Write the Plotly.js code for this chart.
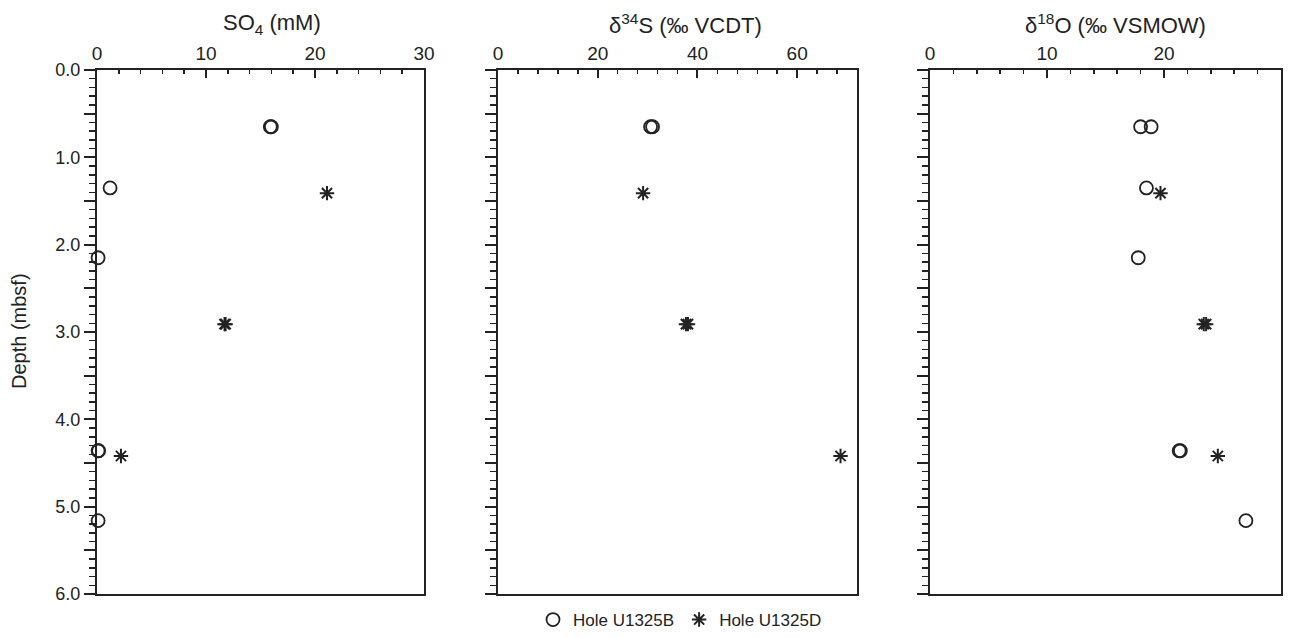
<!DOCTYPE html>
<html>
<head>
<meta charset="utf-8">
<script src="https://cdn.plot.ly/plotly-3.0.1.min.js"></script>
<style>html,body{margin:0;padding:0;background:#fff;}#chart{width:1291px;height:638px;}</style>
</head>
<body>
<div id="chart"></div>
<script>
// Hole U1325B (open circles)
const depthB = [0.65, 0.65, 1.35, 2.15, 4.36, 4.36, 5.16];
const so4B   = [15.9, 16.0, 1.2, 0.1, 0.1, 0.15, 0.1];
const d34SB  = [30.6, 31.0, null, null, null, null, null];
const d18OB  = [18.0, 18.9, 18.5, 17.8, 21.3, 21.4, 27.0];

// Hole U1325D (asterisks)
const depthD = [1.41, 2.91, 2.91, 4.42];
const so4D   = [21.1, 11.7, 11.8, 2.2];
const d34SD  = [29.1, 37.7, 38.1, 68.7];
const d18OD  = [19.7, 23.4, 23.6, 24.6];

const panelTitles = ["SO<sub>4</sub> (mM)", "δ<sup>34</sup>S (‰ VCDT)", "δ<sup>18</sup>O (‰ VSMOW)"];
const nameB = "Hole U1325B", nameD = "Hole U1325D";

const W = 1291, H = 638;
const ink = "#222";
const FONT = "Liberation Sans, Arial, Helvetica, sans-serif";

const circ = {symbol: "circle-open", size: 13, color: ink, line: {color: ink, width: 1.8}};
const star = {symbol: "asterisk-open", size: 12, color: ink, line: {color: ink, width: 2}};

const xs = [[so4B, so4D], [d34SB, d34SD], [d18OB, d18OD]];
const traces = [];
xs.forEach((pair, i) => {
  const xa = i === 0 ? "x" : "x" + (i + 1);
  const ya = i === 0 ? "y" : "y" + (i + 1);
  traces.push({type: "scatter", mode: "markers", x: pair[0], y: depthB, xaxis: xa, yaxis: ya,
    name: nameB, marker: circ, showlegend: i === 0, legendgroup: "B", cliponaxis: false});
  traces.push({type: "scatter", mode: "markers", x: pair[1], y: depthD, xaxis: xa, yaxis: ya,
    name: nameD, marker: star, showlegend: i === 0, legendgroup: "D", cliponaxis: false});
});

const plotTop = 70, plotBottom = 594;
const yDom = [1 - plotBottom / H, 1 - plotTop / H];
const xDoms = [[97, 424], [498, 857], [930, 1281]];
const titleCenters = [272, 685, 1115];
const xRanges = [[0, 30], [0, 72], [0, 30]];
const xDticks = [10, 20, 10];
const xMinor = [2, 4, 2];

const layout = {
  width: W, height: H,
  margin: {l: 0, r: 0, t: 0, b: 0, autoexpand: false},
  paper_bgcolor: "#fff", plot_bgcolor: "#fff",
  font: {family: FONT, color: ink, size: 18},
  showlegend: true,
  legend: {orientation: "h", x: 680 / W, xanchor: "center", y: 0, yanchor: "bottom",
    font: {size: 17, color: ink}, itemwidth: 30, tracegroupgap: 0, bgcolor: "rgba(0,0,0,0)"},
  annotations: [],
};

for (let i = 0; i < 3; i++) {
  const sfx = i === 0 ? "" : String(i + 1);
  const xa = "x" + sfx, ya = "y" + sfx;
  layout["xaxis" + sfx] = {
    domain: [xDoms[i][0] / W, xDoms[i][1] / W], range: xRanges[i], side: "top", anchor: ya,
    showline: true, mirror: true, linecolor: ink, linewidth: 2,
    ticks: "inside", ticklen: 8, tickwidth: 2, tickcolor: ink, dtick: xDticks[i], tick0: 0,
    minor: {ticks: "inside", dtick: xMinor[i], tick0: 0, ticklen: 4, tickwidth: 1.5, tickcolor: ink},
    showgrid: false, zeroline: false, tickfont: {size: 19, color: ink}, fixedrange: true
  };
  layout["yaxis" + sfx] = {
    domain: yDom, range: [6, 0], anchor: xa,
    showline: true, mirror: true, linecolor: ink, linewidth: 2,
    ticks: "outside", ticklen: 11, tickwidth: 2, tickcolor: ink,
    tickmode: "linear", tick0: 0, dtick: 0.5, ticklabelstep: 2, tickformat: ".1f",
    minor: {ticks: "outside", tickmode: "linear", tick0: 0, dtick: 0.1, ticklen: 6, tickwidth: 1.5, tickcolor: ink},
    showticklabels: i === 0, showgrid: false, zeroline: false,
    tickfont: {size: 18, color: ink}, fixedrange: true
  };
  layout.annotations.push({
    text: panelTitles[i], xref: "paper", yref: "paper",
    x: titleCenters[i] / W, y: 1 - 24 / H,
    xanchor: "center", yanchor: "middle", showarrow: false, font: {size: 22, color: ink}
  });
}
layout.annotations.push({
  text: "Depth (mbsf)", xref: "paper", yref: "paper", x: 19 / W, y: 1 - 331 / H,
  xanchor: "center", yanchor: "middle", textangle: -90, showarrow: false, font: {size: 20, color: ink}
});

Plotly.newPlot("chart", traces, layout, {displayModeBar: false, staticPlot: true});
</script>
</body>
</html>
